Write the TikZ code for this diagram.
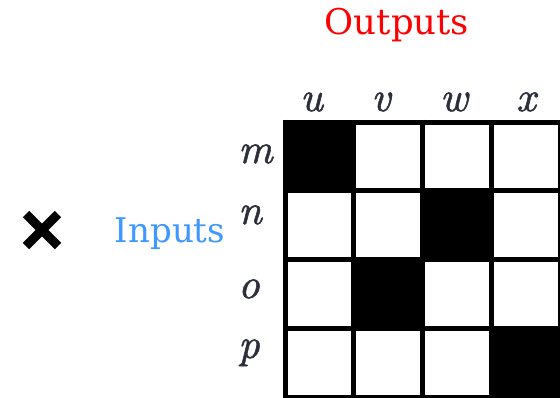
\documentclass[tikz,border=0pt]{standalone}
\usepackage{fontspec}
\newfontfamily\slab{DejaVu Serif}
\newfontfamily\lblfont{lmroman10-italic.otf}[FakeBold=1.3]
\definecolor{lbl}{HTML}{2B2F3A}
\definecolor{inblue}{HTML}{3D99FF}
\definecolor{outred}{HTML}{FF0000}
\begin{document}
\begin{tikzpicture}[x=1pt,y=-1pt,
  collbl/.style={anchor=base,text=lbl,inner sep=0pt,font=\lblfont\fontsize{42}{50}\selectfont},
  rowlbl/.style={anchor=base west,text=lbl,inner sep=0pt,font=\lblfont\fontsize{42}{50}\selectfont},
  title/.style={anchor=base,inner sep=0pt},
  gridline/.style={line width=5pt},
  crossline/.style={line width=9pt,line cap=butt}]
\useasboundingbox (0,0) rectangle (560,397);
\fill[white] (0,0) rectangle (560,397);
% black cells
\def\px{68.75}
\foreach \r/\c in {0/0,1/2,2/1,3/3}{
  \fill[black] (285+\c*\px,122+\r*\px) rectangle (285+\c*\px+\px,122+\r*\px+\px);
}
% grid lines
\foreach \k in {0,1,2,3,4}{
  \draw[gridline] (285+\k*\px,119.5) -- (285+\k*\px,399);
  \draw[gridline] (282.5,122+\k*\px) -- (562,122+\k*\px);
}
% column labels
\node[collbl] (u) at (311.5,111) {u};
\node[collbl] (v) at (381,111) {v};
\node[collbl] (w) at (454,111) {w};
\node[collbl] (x) at (526,111) {x};
% row labels
\node[rowlbl] (m) at (238,163) {m};
\node[rowlbl] (n) at (238,224) {n};
\node[rowlbl] (o) at (238,298) {o};
\node[rowlbl] (p) at (238,358) {p};
% titles
\node[title,text=outred,font=\slab\fontsize{35.5}{42}\selectfont] (outputs) at (397,34) {Outputs};
\node[title,text=inblue,font=\slab\fontsize{34}{40}\selectfont] (inputs) at (170,242) {Inputs};
% cross
\coordinate (c1) at (26,214);
\coordinate (c2) at (58,246);
\coordinate (c3) at (58,214);
\coordinate (c4) at (26,246);
\draw[crossline] (c1) -- (c2);
\draw[crossline] (c3) -- (c4);
\end{tikzpicture}
\end{document}
